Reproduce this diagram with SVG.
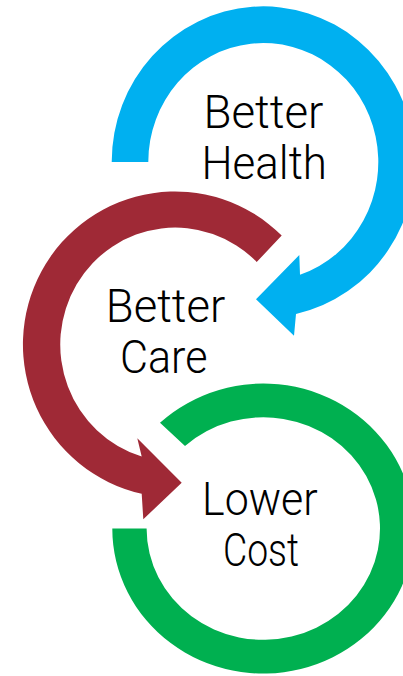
<svg xmlns="http://www.w3.org/2000/svg" width="403" height="676" viewBox="0 0 403 676">
  <style>
    .label { font-family: Roboto, "Liberation Sans", Arial, sans-serif; font-weight: 300; font-size: 46px; fill: #000000; }
    .blue { fill: #00B0F0; }
    .red { fill: #9F2936; }
    .green { fill: #00B050; }
  </style>
  <rect width="403" height="676" fill="#ffffff"/>

  <!-- Circular arrows forming the cycle -->
  <g id="connectors">
    <!-- Health loop: from the left end, clockwise over the top, ending in an arrowhead pointing at Care -->
    <path id="arrow-health" class="blue"
          d="M 111.7 162 A 151.6 155.6 0 1 1 296 313.9 L 294 335.7 L 256 299.3 L 299.3 255 L 300 274.8 A 115 119 0 1 0 148.3 162 Z"/>
    <!-- Care loop: from the upper right, counter-clockwise round the left, arrowhead pointing at Cost -->
    <path id="arrow-care" class="red"
          d="M 281.7 235.6 A 152 153 0 1 0 141.7 493.8 L 143.3 519.3 L 181.7 482.7 L 137.3 438.3 L 141.7 456.5 A 115 117 0 1 1 256.7 262 Z"/>
    <!-- Cost loop: open ring with a gap at the upper left -->
    <path id="arrow-cost" class="green"
          d="M 112.3 528.5 A 151 145 0 1 0 160 422.8 L 185 446 A 116.7 111.3 0 1 1 146.6 528.5 Z"/>
  </g>

  <g id="node-better-health">
    <text class="label" x="203.5" y="127.7" textLength="120" lengthAdjust="spacingAndGlyphs">Better</text>
    <text class="label" x="201.5" y="179" textLength="125.5" lengthAdjust="spacingAndGlyphs">Health</text>
  </g>

  <g id="node-better-care">
    <text class="label" x="105.8" y="322.2" textLength="119.4" lengthAdjust="spacingAndGlyphs">Better</text>
    <text class="label" x="120" y="372.5" textLength="87.5" lengthAdjust="spacingAndGlyphs">Care</text>
  </g>

  <g id="node-lower-cost">
    <text class="label" x="202" y="515" textLength="115.7" lengthAdjust="spacingAndGlyphs">Lower</text>
    <text class="label" x="223" y="566" textLength="76" lengthAdjust="spacingAndGlyphs">Cost</text>
  </g>
</svg>
